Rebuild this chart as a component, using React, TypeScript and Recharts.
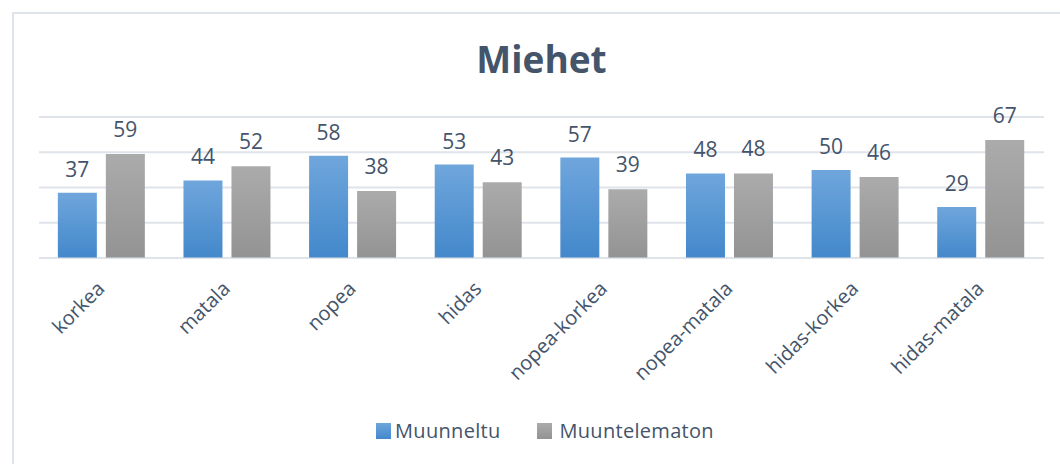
import React from 'react'
import {
  BarChart,
  Bar,
  XAxis,
  YAxis,
  CartesianGrid,
  LabelList,
  ReferenceLine
} from 'recharts'

const categories = [
  'korkea',
  'matala',
  'nopea',
  'hidas',
  'nopea-korkea',
  'nopea-matala',
  'hidas-korkea',
  'hidas-matala'
]
const muunneltu = [37, 44, 58, 53, 57, 48, 50, 29]
const muuntelematon = [59, 52, 38, 43, 39, 48, 46, 67]
const yTicks = [0, 20, 40, 60, 80]

const data = categories.map((name, i) => ({
  name,
  muunneltu: muunneltu[i],
  muuntelematon: muuntelematon[i]
}))

const TEXT = '#44546a'
const FONT = '"Open Sans", sans-serif'
const AXIS_Y = 258

const AngledTick = ({ x, payload }: any) => (
  <text
    x={x + 4}
    y={AXIS_Y + 32}
    transform={`rotate(-45, ${x + 4}, ${AXIS_Y + 32})`}
    textAnchor="end"
    fill={TEXT}
    fontSize={20}
    fontFamily={FONT}
  >
    {payload.value}
  </text>
)

const LegendContent = () => (
  <div
    style={{
      display: 'flex',
      justifyContent: 'center',
      alignItems: 'center',
      gap: 36,
      fontFamily: FONT,
      fontSize: 20,
      letterSpacing: 0.3,
      color: TEXT
    }}
  >
    <span style={{ display: 'flex', alignItems: 'center' }}>
      <span
        style={{
          width: 15,
          height: 16,
          marginRight: 4,
          background: 'linear-gradient(#6fa6dc, #4388cb)'
        }}
      />
      Muunneltu
    </span>
    <span style={{ display: 'flex', alignItems: 'center' }}>
      <span
        style={{
          width: 15,
          height: 16,
          marginRight: 8,
          background: 'linear-gradient(#ababab, #939393)'
        }}
      />
      Muuntelematon
    </span>
  </div>
)

export default function App() {
  return (
    <div
      style={{
        position: 'fixed',
        left: 0,
        top: 0,
        width: 1060,
        height: 464,
        overflow: 'hidden',
        background: '#fff'
      }}
    >
      <div
        style={{
          position: 'absolute',
          left: 12,
          top: 12,
          width: 1100,
          height: 500,
          border: '2px solid #dfe3ea'
        }}
      />
      <div
        style={{
          position: 'absolute',
          left: 0,
          top: 33,
          width: 1083,
          textAlign: 'center',
          fontFamily: FONT,
          fontWeight: 700,
          fontSize: 37,
          color: TEXT
        }}
      >
        Miehet
      </div>
      <div style={{ position: 'absolute', left: 0, top: 0 }}>
        <BarChart
          width={1060}
          height={464}
          data={data}
          margin={{ top: 117, right: 16, left: 39, bottom: 176 }}
          barCategoryGap="15%"
          barGap={9}
        >
          <defs>
            <linearGradient id="gradBlue" x1="0" y1="0" x2="0" y2="1">
              <stop offset="0%" stopColor="#6fa6dc" />
              <stop offset="100%" stopColor="#4388cb" />
            </linearGradient>
            <linearGradient id="gradGray" x1="0" y1="0" x2="0" y2="1">
              <stop offset="0%" stopColor="#ababab" />
              <stop offset="100%" stopColor="#939393" />
            </linearGradient>
          </defs>
          <CartesianGrid
            horizontal
            vertical={false}
            stroke="#dfe3ea"
            strokeWidth={2}
          />
          <XAxis
            dataKey="name"
            height={30}
            axisLine={false}
            tickLine={false}
            interval={0}
            tick={<AngledTick />}
          />
          <YAxis hide domain={[0, 80]} ticks={yTicks} />
          <Bar
            dataKey="muunneltu"
            name="Muunneltu"
            fill="url(#gradBlue)"
            isAnimationActive={false}
          >
            <LabelList
              dataKey="muunneltu"
              position="top"
              offset={16}
              fill={TEXT}
              fontSize={21}
              fontFamily={FONT}
            />
          </Bar>
          <Bar
            dataKey="muuntelematon"
            name="Muuntelematon"
            fill="url(#gradGray)"
            isAnimationActive={false}
          >
            <LabelList
              dataKey="muuntelematon"
              position="top"
              offset={17}
              fill={TEXT}
              fontSize={21}
              fontFamily={FONT}
            />
          </Bar>
          <ReferenceLine
            y={0}
            stroke="#dfe3ea"
            strokeOpacity={0.5}
            strokeWidth={2}
          />
        </BarChart>
      </div>
      <div style={{ position: 'absolute', left: 0, top: 417, width: 1090 }}>
        <LegendContent />
      </div>
    </div>
  )
}
